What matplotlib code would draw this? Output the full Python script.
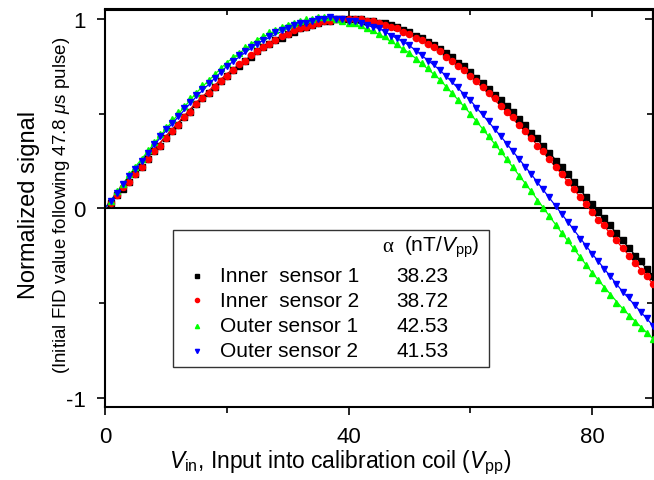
import numpy as np
import matplotlib
matplotlib.use("Agg")
import matplotlib.pyplot as plt
from matplotlib.patches import Rectangle

plt.rcParams['font.family'] = ['Liberation Sans', 'DejaVu Sans']
plt.rcParams['mathtext.fontset'] = 'custom'
plt.rcParams['mathtext.rm'] = 'Liberation Sans'
plt.rcParams['mathtext.it'] = 'Liberation Sans:italic'
plt.rcParams['axes.unicode_minus'] = False

# input voltage (Vpp), one point per volt
v_in = np.arange(1, 91)

# measured normalized signal
inner_1 = [0.03, 0.07, 0.10, 0.14, 0.18, 0.22, 0.26, 0.30, 0.33, 0.37,
           0.41, 0.44, 0.48, 0.51, 0.55, 0.58, 0.61, 0.64, 0.67, 0.70,
           0.73, 0.75, 0.78, 0.80, 0.83, 0.85, 0.87, 0.89, 0.90, 0.92,
           0.93, 0.95, 0.96, 0.97, 0.98, 0.99, 0.99, 1.00, 1.00, 1.00,
           1.00, 1.00, 0.99, 0.99, 0.98, 0.98, 0.97, 0.96, 0.94, 0.93,
           0.91, 0.90, 0.88, 0.86, 0.84, 0.82, 0.80, 0.77, 0.75, 0.72,
           0.69, 0.66, 0.63, 0.60, 0.57, 0.54, 0.51, 0.47, 0.44, 0.40,
           0.37, 0.33, 0.29, 0.25, 0.22, 0.18, 0.14, 0.10, 0.06, 0.02,
           -0.02, -0.05, -0.09, -0.13, -0.17, -0.21, -0.25, -0.28, -0.32, -0.36]
inner_2 = [0.03, 0.07, 0.11, 0.14, 0.18, 0.22, 0.26, 0.30, 0.33, 0.37,
           0.41, 0.44, 0.48, 0.51, 0.55, 0.58, 0.61, 0.64, 0.67, 0.70,
           0.73, 0.76, 0.78, 0.81, 0.83, 0.85, 0.87, 0.89, 0.91, 0.92,
           0.94, 0.95, 0.96, 0.97, 0.98, 0.99, 0.99, 1.00, 1.00, 1.00,
           1.00, 1.00, 0.99, 0.99, 0.98, 0.97, 0.96, 0.95, 0.93, 0.92,
           0.90, 0.89, 0.87, 0.85, 0.83, 0.80, 0.78, 0.75, 0.73, 0.70,
           0.67, 0.64, 0.61, 0.58, 0.54, 0.51, 0.48, 0.44, 0.41, 0.37,
           0.33, 0.30, 0.26, 0.22, 0.18, 0.14, 0.10, 0.06, 0.02, -0.02,
           -0.06, -0.09, -0.13, -0.17, -0.21, -0.25, -0.29, -0.33, -0.36, -0.40]
outer_1 = [0.04, 0.09, 0.13, 0.18, 0.22, 0.26, 0.31, 0.35, 0.39, 0.43,
           0.47, 0.51, 0.54, 0.58, 0.61, 0.65, 0.68, 0.71, 0.74, 0.77,
           0.80, 0.82, 0.85, 0.87, 0.89, 0.91, 0.93, 0.94, 0.96, 0.97,
           0.98, 0.99, 1.00, 1.00, 1.01, 1.01, 1.01, 1.00, 0.99, 0.98,
           0.98, 0.97, 0.95, 0.94, 0.92, 0.91, 0.89, 0.87, 0.84, 0.82,
           0.79, 0.77, 0.74, 0.71, 0.68, 0.64, 0.61, 0.57, 0.54, 0.50,
           0.46, 0.42, 0.38, 0.34, 0.30, 0.26, 0.22, 0.17, 0.13, 0.09,
           0.04, 0.00, -0.04, -0.09, -0.13, -0.17, -0.21, -0.26, -0.30, -0.34,
           -0.38, -0.42, -0.46, -0.50, -0.53, -0.57, -0.60, -0.63, -0.66, -0.69]
outer_2 = [0.04, 0.08, 0.13, 0.17, 0.21, 0.25, 0.29, 0.34, 0.38, 0.42,
           0.45, 0.49, 0.53, 0.56, 0.60, 0.63, 0.66, 0.69, 0.72, 0.75,
           0.78, 0.81, 0.83, 0.85, 0.87, 0.89, 0.91, 0.93, 0.94, 0.95,
           0.97, 0.98, 0.98, 0.99, 1.00, 1.00, 1.01, 1.00, 1.00, 0.99,
           0.99, 0.98, 0.97, 0.96, 0.95, 0.93, 0.91, 0.90, 0.88, 0.86,
           0.83, 0.81, 0.78, 0.76, 0.73, 0.70, 0.67, 0.64, 0.60, 0.57,
           0.53, 0.50, 0.46, 0.42, 0.38, 0.34, 0.30, 0.26, 0.22, 0.18,
           0.14, 0.10, 0.06, 0.01, -0.03, -0.07, -0.11, -0.16, -0.20, -0.24,
           -0.28, -0.32, -0.36, -0.40, -0.44, -0.47, -0.51, -0.55, -0.58, -0.62]

# fitted curves, read every 5 Vpp
fit_v = np.arange(0, 91, 5)
fit_inner_1 = [0.0, 0.19, 0.38, 0.55, 0.70, 0.83, 0.92, 0.98, 1.00, 0.98,
               0.93, 0.84, 0.72, 0.57, 0.40, 0.22, 0.02, -0.17, -0.36]
fit_inner_2 = [0.0, 0.20, 0.38, 0.56, 0.71, 0.83, 0.93, 0.98, 1.00, 0.98,
               0.92, 0.83, 0.70, 0.54, 0.37, 0.18, -0.02, -0.21, -0.40]
fit_outer_1 = [0.0, 0.22, 0.42, 0.61, 0.77, 0.89, 0.97, 1.00, 0.98, 0.92,
               0.82, 0.68, 0.50, 0.30, 0.09, -0.13, -0.34, -0.53, -0.69]
fit_outer_2 = [0.0, 0.21, 0.41, 0.59, 0.75, 0.87, 0.95, 1.00, 0.99, 0.95,
               0.86, 0.73, 0.57, 0.38, 0.18, -0.03, -0.24, -0.44, -0.62]

names = ["Inner  sensor 1", "Inner  sensor 2", "Outer sensor 1", "Outer sensor 2"]
alphas = ["38.23", "38.72", "42.53", "41.53"]
colors = ["black", "#ff0000", "#00ff00", "#0000ff"]
markers = ["s", "o", "^", "v"]
msizes = [3.8, 4.4, 4.8, 4.8]

data = [inner_1, inner_2, outer_1, outer_2]
fits = [fit_inner_1, fit_inner_2, fit_outer_1, fit_outer_2]

fig = plt.figure(figsize=(6.54, 4.81), dpi=100)
ax = fig.add_axes([105 / 654, 1 - 408 / 481, 548 / 654, 397.5 / 481])

ax.axhline(0, color="black", lw=1.5, zorder=1)

for y, f, c, m, s in zip(data, fits, colors, markers, msizes):
    ax.plot(fit_v, f, color=c, lw=0.9, zorder=2)
    ax.plot(v_in, y, ls="none", marker=m, ms=s, color=c, mec=c, zorder=3)

ax.set_xlim(0, 90)
ax.set_ylim(-1.05, 1.05)
ax.set_xticks([0, 40, 80])
ax.set_xticks([20, 60], minor=True)
ax.set_yticks([-1, 0, 1])
ax.set_yticks([-0.5, 0.5], minor=True)
ax.tick_params(which="both", direction="out", width=1.2, labelsize=16, pad=8)
ax.tick_params(which="major", length=6)
ax.tick_params(which="minor", length=4)
for sp in ax.spines.values():
    sp.set_linewidth(1.5)

top = ax.secondary_xaxis("top")
top.set_xticks([0, 40, 80])
top.set_xticks([20, 60], minor=True)
top.tick_params(which="both", direction="in", labeltop=False, width=1.2)
top.tick_params(which="major", length=6)
top.tick_params(which="minor", length=4)
top.spines["top"].set_linewidth(1.5)

right = ax.secondary_yaxis("right")
right.set_yticks([-1, 0, 1])
right.set_yticks([-0.5, 0.5], minor=True)
right.tick_params(which="both", direction="in", labelright=False, width=1.2)
right.tick_params(which="major", length=6)
right.tick_params(which="minor", length=4)
right.spines["right"].set_linewidth(1.5)

fig.text(340 / 654, 1 - 463 / 481,
         r"$V_{\rm in}$, Input into calibration coil ($V_{\rm pp}$)",
         fontsize=16.5, ha="center", va="center")
fig.text(29 / 654, 1 - 205 / 481, "Normalized signal", rotation=90, fontsize=17,
         ha="center", va="center")
fig.text(62 / 654, 1 - 205 / 481, r"(Initial FID value following 47.8 $\mu$s pulse)",
         rotation=90, fontsize=13.5, ha="center", va="center")

# table-style legend
ax.add_patch(Rectangle((0.124, 0.101), 0.577, 0.345, transform=ax.transAxes,
                       fill=True, fc="white", ec="#333333", lw=1.0, zorder=5))
ax.text(0.506, 0.405, "α", fontsize=15, family=["Liberation Serif", "DejaVu Serif"],
        transform=ax.transAxes, va="center", ha="left", zorder=6)
ax.text(0.545, 0.405, r"(nT/$V_{\rm pp}$)", fontsize=15,
        transform=ax.transAxes, va="center", ha="left", zorder=6)
row_y = [0.330, 0.268, 0.205, 0.142]
for yy, nm, al, c, m in zip(row_y, names, alphas, colors, markers):
    ax.plot([0.1676], [yy], marker=m, ms=3, color=c, transform=ax.transAxes,
            zorder=6, clip_on=False)
    ax.text(0.2095, yy, nm, fontsize=15, transform=ax.transAxes,
            va="center", ha="left", zorder=6)
    ax.text(0.579, yy, al, fontsize=15, transform=ax.transAxes,
            va="center", ha="center", zorder=6)

fig.savefig("out.png", dpi=100)
